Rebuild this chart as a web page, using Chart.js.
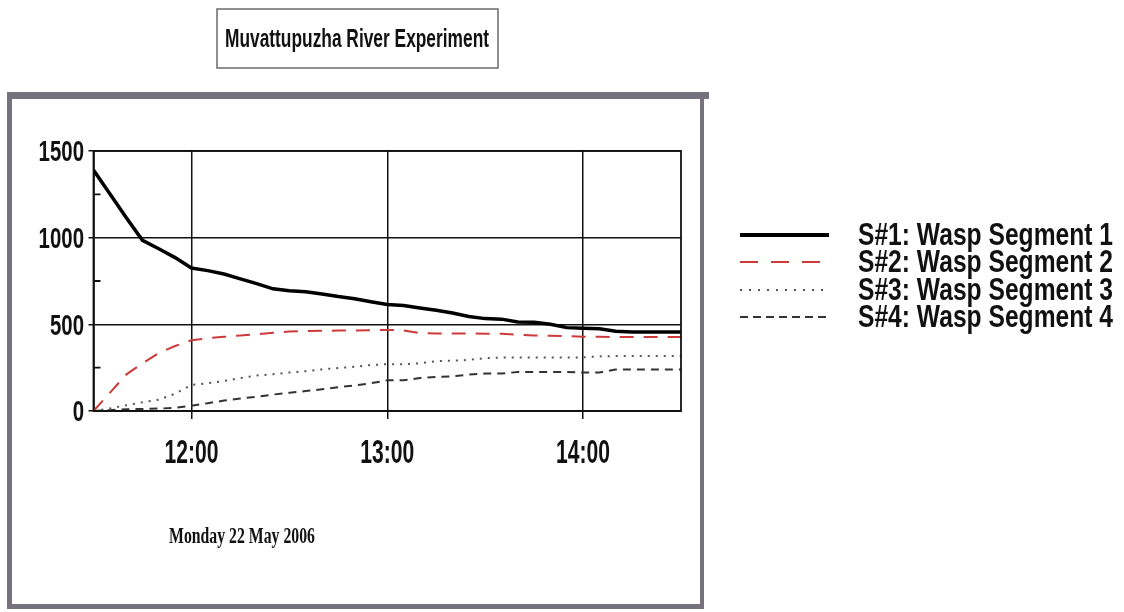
<!DOCTYPE html>
<html>
<head>
<meta charset="utf-8">
<script src="https://cdn.jsdelivr.net/npm/chart.js@4.4.1/dist/chart.umd.min.js"></script>
<style>
  html, body { margin: 0; padding: 0; background: #ffffff; }
  #wrap { width: 1124px; height: 612px; position: relative; }
</style>
</head>
<body>
<div id="wrap"><canvas id="c" width="1124" height="612"></canvas></div>
<script>
// ---- Data ----
const chartTitle = 'Muvattupuzha River Experiment';
const dateLabel = 'Monday 22 May 2006';
const seriesNames = ['S#1: Wasp Segment 1', 'S#2: Wasp Segment 2', 'S#3: Wasp Segment 3', 'S#4: Wasp Segment 4'];
const times = ['11:30','11:35','11:40','11:45','11:50','11:55','12:00','12:05','12:10','12:15','12:20','12:25',
               '12:30','12:35','12:40','12:45','12:50','12:55','13:00','13:05','13:10','13:15','13:20','13:25',
               '13:30','13:35','13:40','13:45','13:50','13:55','14:00','14:05','14:10','14:15','14:20','14:25','14:30'];
const seg1 = [1390,1254,1117,985,936,885,825,810,790,762,735,705,
              694,688,675,660,648,630,615,608,594,581,565,545,
              533,530,514,512,500,481,478,475,460,456,456,456,456];
const seg2 = [0,105,210,275,335,375,408,420,428,436,443,452,
              458,462,463,464,465,466,468,465,450,447,447,447,
              446,445,440,436,434,432,428,428,427,427,427,427,427];
const seg3 = [0,15,33,50,65,100,150,160,173,190,205,212,
              222,230,240,248,255,265,270,270,275,288,290,295,
              305,308,308,308,308,308,310,315,317,317,318,318,318];
const seg4 = [0,5,10,12,14,18,30,45,60,72,82,95,
              105,115,125,137,148,160,177,177,190,196,200,210,
              216,216,225,225,225,225,222,222,240,240,240,240,240];
const xTickLabels = ['12:00','13:00','14:00'];
const yTickValues = [0, 500, 1000, 1500];
const yMinorTicks = [250, 750, 1250];
const xRange = ['11:30', '14:30'];
const yRange = [0, 1500];

// ---- helpers ----
function toMin(s) { const p = s.split(':'); return (+p[0]) * 60 + (+p[1]); }
function fmt(m) { const h = Math.floor(m / 60), mm = Math.round(m % 60); return h + ':' + (mm < 10 ? '0' : '') + mm; }
function pts(vals) { return vals.map((v, i) => ({ x: toMin(times[i]), y: v })); }

const sans = '"Liberation Sans", Arial, sans-serif';

function drawText(ctx, text, font, x, y, opts) {
  ctx.save();
  ctx.font = font;
  const w = ctx.measureText(text).width;
  const s = opts.width ? opts.width / w : opts.scale;
  ctx.translate(x, y);
  ctx.scale(s, 1);
  ctx.textAlign = opts.align || 'left';
  ctx.textBaseline = 'middle';
  ctx.fillStyle = '#111';
  ctx.fillText(text, 0, 0);
  ctx.restore();
}

const decor = {
  id: 'decor',
  beforeDraw(chart) {
    const ctx = chart.ctx;
    ctx.save();
    ctx.fillStyle = '#ffffff';
    ctx.fillRect(0, 0, chart.width, chart.height);
    // outer frame
    ctx.fillStyle = '#75717d';
    ctx.fillRect(7, 92, 702, 7);
    ctx.fillRect(7, 92, 5, 517);
    ctx.fillRect(700, 95, 4, 514);
    ctx.fillRect(7, 604, 697, 5);
    // title box
    ctx.strokeStyle = '#6a6a6a';
    ctx.lineWidth = 1.5;
    ctx.strokeRect(217, 9, 281, 59);
    ctx.restore();
    drawText(ctx, chartTitle, 'bold 25px ' + sans, 357, 40, { width: 264, align: 'center' });
  },
  afterDraw(chart) {
    const ctx = chart.ctx;
    const a = chart.chartArea;
    const xs = chart.scales.x;
    const ys = chart.scales.y;
    ctx.save();
    // plot border
    ctx.strokeStyle = '#111';
    ctx.lineWidth = 1.8;
    ctx.strokeRect(a.left, a.top, a.right - a.left, a.bottom - a.top);
    // minor ticks inside
    ctx.beginPath();
    yMinorTicks.forEach(v => {
      const py = ys.getPixelForValue(v);
      ctx.moveTo(a.left, py);
      ctx.lineTo(a.left + 7, py);
    });
    ctx.stroke();
    ctx.restore();
    // tick labels (condensed), positioned by the library's scales
    xs.ticks.forEach(t => {
      drawText(ctx, fmt(t.value), 'bold 33px ' + sans, xs.getPixelForValue(t.value), 454, { scale: 0.64, align: 'center' });
    });
    ys.ticks.forEach(t => {
      drawText(ctx, String(t.value), 'bold 30px ' + sans, 84, ys.getPixelForValue(t.value) + 2, { scale: 0.68, align: 'right' });
    });
    // legend
    const rows = [235, 262, 290, 317];
    chart.data.datasets.forEach((ds, i) => {
      ctx.save();
      ctx.strokeStyle = ds.borderColor;
      ctx.lineWidth = ds.borderWidth + (i === 0 ? 0.5 : 0);
      ctx.setLineDash(ds.legendDash || ds.borderDash || []);
      ctx.beginPath();
      ctx.moveTo(740, rows[i]);
      ctx.lineTo(829, rows[i]);
      ctx.stroke();
      ctx.restore();
      drawText(ctx, ds.label, 'bold 31px ' + sans, 858, rows[i] + 1, { width: 255, align: 'left' });
    });
    // date label
    drawText(ctx, dateLabel, 'bold 24px "Liberation Serif", "DejaVu Serif", serif', 242, 537, { width: 146, align: 'center' });
  }
};

const styles = [
  { color: '#000000', width: 3.5, dash: [], legendDash: [] },
  { color: '#cc3a3a', width: 2, dash: [14, 10], legendDash: [18, 13] },
  { color: '#555555', width: 2, dash: [2, 6], legendDash: [2, 7] },
  { color: '#333333', width: 2, dash: [8, 6], legendDash: [8, 5] }
];
const seriesValues = [seg1, seg2, seg3, seg4];

const datasets = seriesValues.map((vals, i) => ({
  label: seriesNames[i],
  data: pts(vals),
  borderColor: styles[i].color,
  backgroundColor: styles[i].color,
  borderWidth: styles[i].width,
  borderDash: styles[i].dash,
  legendDash: styles[i].legendDash,
  borderCapStyle: 'butt',
  pointRadius: 0,
  tension: 0,
  fill: false
}));

new Chart(document.getElementById('c'), {
  type: 'line',
  data: { datasets },
  options: {
    responsive: false,
    animation: false,
    devicePixelRatio: 1,
    layout: { padding: { top: 151, right: 443, bottom: 101, left: 0 } },
    plugins: { legend: { display: false }, title: { display: false }, tooltip: { enabled: false } },
    scales: {
      x: {
        type: 'linear',
        min: toMin(xRange[0]),
        max: toMin(xRange[1]),
        afterBuildTicks: s => { s.ticks = xTickLabels.map(t => ({ value: toMin(t) })); },
        afterFit: s => { s.height = 100; },
        grid: { color: '#111', lineWidth: 1.5, tickLength: 8, tickColor: '#111', drawOnChartArea: true },
        border: { color: '#111', width: 1.8 },
        ticks: { display: false, callback: v => fmt(v), autoSkip: false }
      },
      y: {
        min: yRange[0],
        max: yRange[1],
        afterBuildTicks: s => { s.ticks = yTickValues.map(v => ({ value: v })); },
        afterFit: s => { s.width = 93.5; },
        grid: { color: '#111', lineWidth: 1.5, tickLength: 5, tickColor: '#111' },
        border: { color: '#111', width: 1.8 },
        ticks: { display: false, callback: v => String(v), autoSkip: false }
      }
    }
  },
  plugins: [decor]
});
</script>
</body>
</html>
